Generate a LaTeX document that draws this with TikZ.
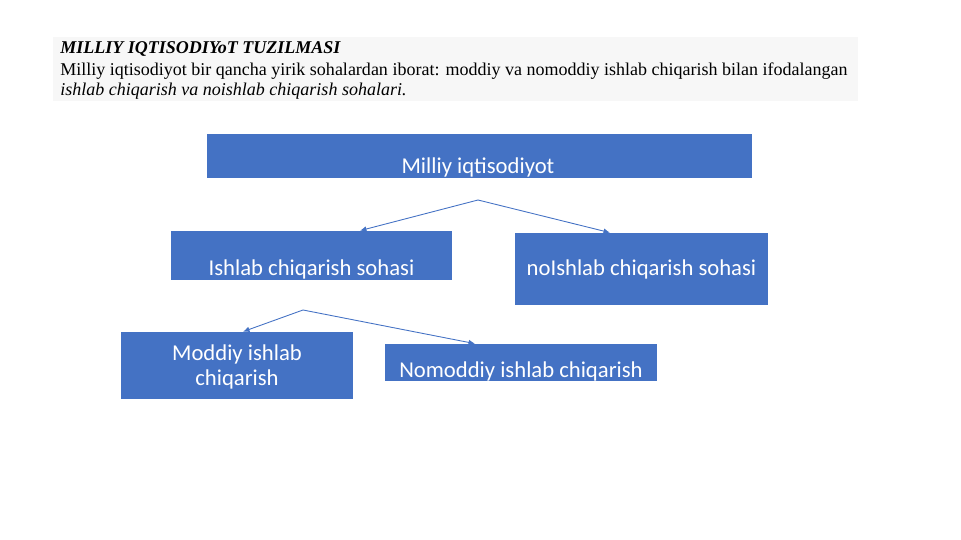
\documentclass[tikz,border=0pt]{standalone}
\usepackage{fontspec}
\setmainfont{Liberation Serif}
\newfontfamily\carlito{Carlito}
\usetikzlibrary{arrows.meta}

\definecolor{boxblue}{HTML}{4472C4}
\definecolor{headgray}{HTML}{F7F7F7}

\tikzset{
  blok/.style={fill=boxblue, draw=none, inner sep=0pt},
  blokt/.style={text=white, font=\carlito\fontsize{12.9}{13.8}\selectfont, align=center, inner sep=0pt},
  head/.style={anchor=base west, inner sep=0pt, font=\fontsize{10.25}{12}\selectfont},
  link/.style={draw=boxblue, line width=0.5pt, -{Latex[length=1.3mm,width=1.1mm]}}
}

\begin{document}
\begin{tikzpicture}[x=0.02cm,y=-0.02cm]
\useasboundingbox (0,0) rectangle (961,540);

% sarlavha
\fill[headgray] (53,37) rectangle (858,101);
\node[head] (title) at (60,54) {\bfseries\itshape MILLIY IQTISODIYoT TUZILMASI};
\node[head] (line1) at (60,76) {Milliy iqtisodiyot bir qancha yirik sohalardan iborat: moddiy va nomoddiy ishlab chiqarish bilan ifodalangan};
\node[head] (line2) at (60,96) {\itshape ishlab chiqarish va noishlab chiqarish sohalari.};

% bloklar
\node[blok, minimum width=10.9cm, minimum height=0.88cm] (milliy) at (479.5,156) {};
\node[blokt] (milliyt) at (478,167) {Milliy iqtisodiyot};

\node[blok, minimum width=5.62cm, minimum height=0.98cm] (ishlab) at (311.5,255.5) {};
\node[blokt] (ishlabt) at (311.5,269) {Ishlab chiqarish sohasi};

\node[blok, minimum width=5.06cm, minimum height=1.44cm] (noishlab) at (641.5,269) {};
\node[blokt] (noishlabt) at (641.5,269) {noIshlab chiqarish sohasi};

\node[blok, minimum width=4.64cm, minimum height=1.34cm] (moddiy) at (237,365.5) {};
\node[blokt] (moddiyt) at (237,367) {Moddiy ishlab\\chiqarish};

\node[blok, minimum width=5.44cm, minimum height=0.74cm] (nomoddiy) at (521,362.5) {};
\node[blokt] (nomoddiyt) at (521,371) {Nomoddiy ishlab chiqarish};

% strelkalar
\coordinate (split1) at (478,200);
\coordinate (split2) at (303,310);
\draw[link] (split1) -- ([xshift=0.97cm]ishlab.north);
\draw[link] (split1) -- ([xshift=-0.63cm]noishlab.north);
\draw[link] (split2) -- ([xshift=0.12cm]moddiy.north);
\draw[link] (split2) -- ([xshift=-0.92cm]nomoddiy.north);

\end{tikzpicture}
\end{document}
